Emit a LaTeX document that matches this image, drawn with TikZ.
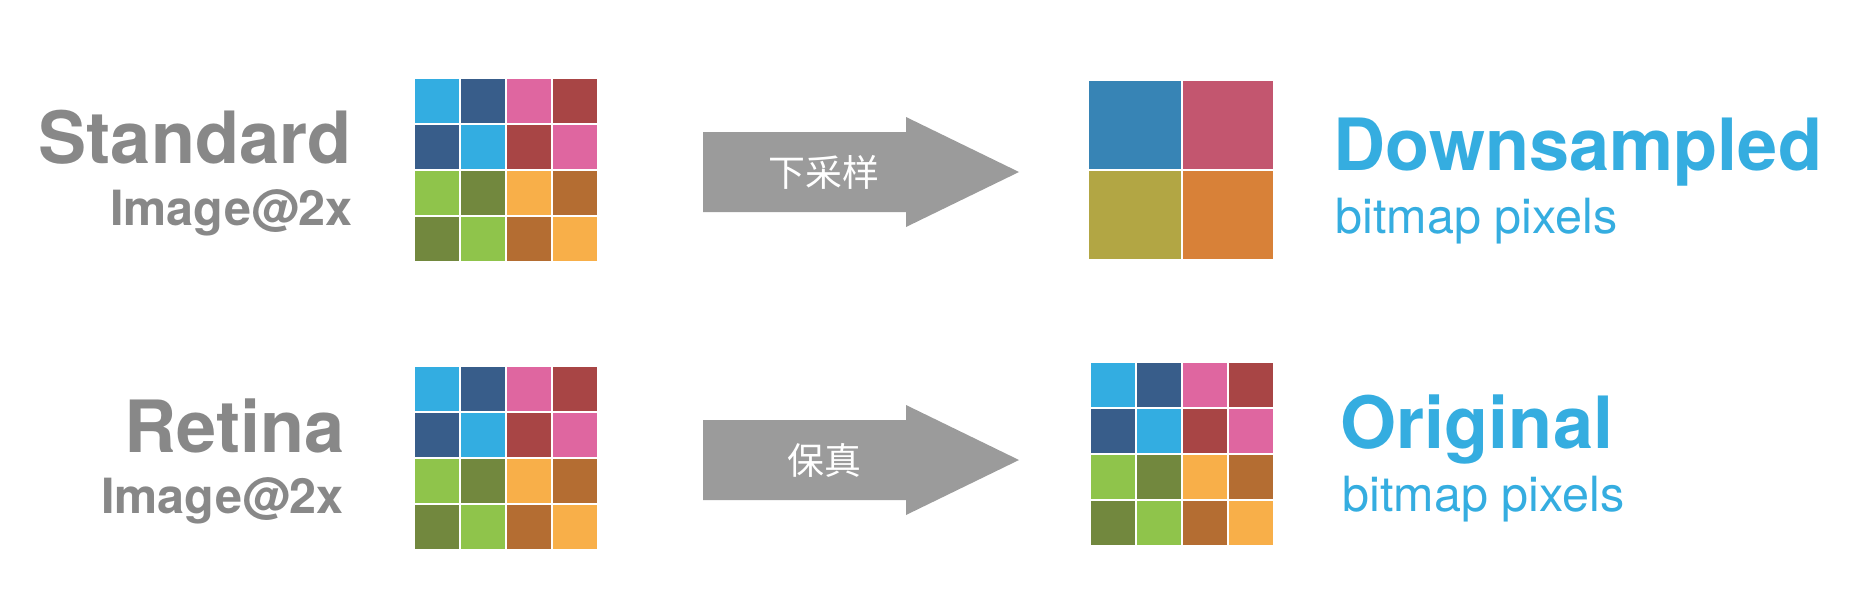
\documentclass[tikz,border=0pt]{standalone}
\usepackage{fontspec}
\setmainfont{TeX Gyre Heros}
\newfontfamily\cjk{Noto Sans CJK SC}
\usetikzlibrary{positioning}
% Farben
\definecolor{grautext}{HTML}{888888}
\definecolor{blautext}{HTML}{35ADE0}
\definecolor{pfeilgrau}{HTML}{9B9B9B}
\definecolor{hb}{HTML}{33ADE1}
\definecolor{db}{HTML}{385D8A}
\definecolor{rs}{HTML}{DF66A0}
\definecolor{rt}{HTML}{A84545}
\definecolor{hg}{HTML}{8FC44B}
\definecolor{og}{HTML}{72883E}
\definecolor{or}{HTML}{F8AF49}
\definecolor{br}{HTML}{B46D32}
\definecolor{mb}{HTML}{3784B5}
\definecolor{mr}{HTML}{C3566F}
\definecolor{mg}{HTML}{B2A644}
\definecolor{mo}{HTML}{D88138}
\tikzset{
  GTitel/.style={grautext,inner sep=0pt,anchor=base east,font={\fontsize{20.5}{24}\bfseries\selectfont}}, % links gross
  GZusatz/.style={grautext,inner sep=0pt,anchor=base east,font={\fontsize{13.8}{16}\bfseries\selectfont}},
  BTitel/.style={blautext,inner sep=0pt,anchor=base west,font={\fontsize{20.5}{24}\bfseries\selectfont}}, % rechts gross
  BZusatz/.style={blautext,inner sep=0pt,anchor=base west,font={\fontsize{13.8}{16}\selectfont}},
  PfeilText/.style={white,inner sep=0pt,font={\cjk\fontsize{10.5}{12}\selectfont}},
  Raster/.pic={
    \foreach \farbe [count=\i from 0] in {hb,db,rs,rt,db,hb,rt,rs,hg,og,or,br,og,hg,br,or}
      \fill[\farbe] ({mod(\i,4)*46},{int(\i/4)*46}) rectangle +(44,44);
  },
  BlockPfeil/.pic={
    \fill[pfeilgrau] (0,-40) -- (203,-40) -- (203,-55) -- (316,0) -- (203,55) -- (203,40) -- (0,40) -- cycle;
  }
}

\begin{document}
\begin{tikzpicture}[x=0.01cm,y=-0.01cm]
\useasboundingbox (0,0) rectangle (1864,606);

% % obere Zeile
\node[GTitel] (std) at (352,163) {Standard};
\node[GZusatz] (stdimg) at (353,225) {Image@2x};
\pic at (415,79) {Raster};
\pic at (703,172) {BlockPfeil};
\node[PfeilText] (ptA) at (824,172) {下采样};

\fill[mb] (1089,81) rectangle (1181,169);
\fill[mr] (1183,81) rectangle (1273,169);
\fill[mg] (1089,171) rectangle (1181,259);
\fill[mo] (1183,171) rectangle (1273,259);
\node[BTitel] (down) at (1333,170) {Downsampled};
\node[BZusatz] (downsub) at (1335,233) {bitmap pixels};

% % untere Zeile
\node[GTitel] (ret) at (345,452) {Retina};
\node[GZusatz] (retimg) at (344,513) {Image@2x};
\pic at (415,367) {Raster};
\pic at (703,460) {BlockPfeil};
\node[PfeilText] (ptB) at (824,460) {保真};

\pic at (1091,363) {Raster};
\node[BTitel] (orig) at (1340,448) {Original};
\node[BZusatz] (origsub) at (1342,511) {bitmap pixels};

\end{tikzpicture}
\end{document}
